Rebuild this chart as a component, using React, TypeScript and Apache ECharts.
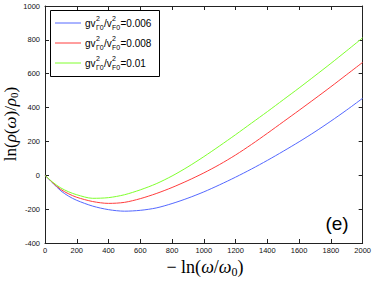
import React, { useEffect, useRef } from "react";
import * as echarts from "echarts";

const xs = [0, 50, 100, 150, 200, 300, 400, 500, 600, 700, 800, 900, 1000, 1100, 1200, 1300, 1400, 1500, 1600, 1700, 1800, 1900, 2000];
const blueVals = [0, -47, -92, -124, -148, -182, -203, -212, -207, -193, -167, -135, -98, -56, -11, 37, 88, 142, 198, 257, 320, 386, 455];
const redVals = [0, -45, -84, -110, -130, -155, -166, -160, -138, -108, -72, -31, 14, 64, 120, 182, 248, 316, 384, 453, 523, 595, 667];
const greenVals = [0, -42, -75, -98, -115, -136, -132, -115, -86, -50, -4, 50, 110, 174, 240, 308, 376, 446, 516, 588, 661, 736, 812];
const legendValues = ["0.006", "0.008", "0.01"];
const colors = ["#5468ff", "#ff3d3d", "#80ff2e"];

const SANS = "'Liberation Sans', Arial, Helvetica, sans-serif";
const SERIF = "'Liberation Serif', 'Times New Roman', serif";

function pairs(v: number[]) {
  return xs.map((x, i) => [x, v[i]]);
}

export default function App() {
  const ref = useRef<HTMLDivElement>(null);
  useEffect(() => {
    if (!ref.current) return;
    const chart = echarts.init(ref.current, undefined, { renderer: "svg" });
    const gl = 45, gt = 6, gr = 9, gb = 38;
    const axisLine = { show: true, onZero: false, lineStyle: { color: "#222", width: 1 } };
    const tick = { show: true, inside: true, length: 4, lineStyle: { color: "#222" } };
    const label = { fontSize: 7.5, color: "#111", fontFamily: SANS, formatter: (v: number) => String(v) };

    const legendChildren: any[] = [];
    legendChildren.push({
      type: "rect",
      shape: { x: 50.5, y: 10.5, width: 109, height: 66 },
      style: { fill: "#fff", stroke: "#000", lineWidth: 1 },
      z: 10,
    });
    legendValues.forEach((val, i) => {
      const y = 23 + i * 20;
      legendChildren.push({
        type: "line",
        shape: { x1: 55, y1: y, x2: 81, y2: y },
        style: { stroke: colors[i], lineWidth: 1 },
        z: 11,
      });
      const t = (text: string, x: number, yy: number, size: number) => ({
        type: "text",
        x,
        y: yy,
        z: 11,
        style: { text, fontSize: size, fontFamily: SANS, fill: "#000", verticalAlign: "middle", align: "left" },
      });
      legendChildren.push(t("gv", 85, y, 10));
      legendChildren.push(t("2", 96, y - 5, 7));
      legendChildren.push(t("Γ0", 96, y + 4, 7));
      legendChildren.push(t("/v", 104, y, 10));
      legendChildren.push(t("2", 112, y - 5, 7));
      legendChildren.push(t("F0", 112, y + 4, 7));
      legendChildren.push(t("=" + val, 120.5, y, 10));
    });

    chart.setOption({
      animation: false,
      grid: { left: gl, top: gt, right: gr, bottom: gb, containLabel: false },
      xAxis: [
        {
          type: "value", min: 0, max: 2000, interval: 200,
          axisLine, axisTick: tick, splitLine: { show: false },
          axisLabel: { ...label, margin: 3 },
        },
        {
          type: "value", position: "top", min: 0, max: 2000, interval: 200,
          axisLine, axisTick: tick, splitLine: { show: false }, axisLabel: { show: false },
        },
      ],
      yAxis: [
        {
          type: "value", min: -400, max: 1000, interval: 200,
          axisLine, axisTick: tick, splitLine: { show: false },
          axisLabel: { ...label, margin: 5 },
        },
        {
          type: "value", position: "right", min: -400, max: 1000, interval: 200,
          axisLine, axisTick: tick, splitLine: { show: false }, axisLabel: { show: false },
        },
      ],
      series: [blueVals, redVals, greenVals].map((v, i) => ({
        type: "line",
        data: pairs(v),
        smooth: 0.3,
        showSymbol: false,
        symbol: "none",
        lineStyle: { color: colors[i], width: 1 },
        z: 3,
      })),
      graphic: [
        ...legendChildren,
        {
          type: "text",
          x: 337,
          y: 223,
          style: { text: "(e)", fontSize: 19, fontFamily: SANS, fill: "#000", align: "center", verticalAlign: "middle" },
        },
        {
          type: "text",
          x: 205,
          y: 267,
          style: {
            text: "{n|− ln(}{i|ω}{n|/}{i|ω}{s|0}{n|)}",
            align: "center",
            verticalAlign: "middle",
            rich: {
              n: { fontSize: 18, fontFamily: SERIF, fill: "#000" },
              i: { fontSize: 18, fontFamily: SERIF, fontStyle: "italic", fill: "#000" },
              s: { fontSize: 12, fontFamily: SERIF, fill: "#000", padding: [9, 0, 0, 0] },
            },
          },
        },
        {
          type: "text",
          x: 10,
          y: 124,
          rotation: Math.PI / 2,
          style: {
            text: "{n|ln(}{i|ρ}{n|(}{i|ω}{n|)/}{i|ρ}{s|0}{n|)}",
            align: "center",
            verticalAlign: "middle",
            rich: {
              n: { fontSize: 17, fontFamily: SERIF, fill: "#000" },
              i: { fontSize: 17, fontFamily: SERIF, fontStyle: "italic", fill: "#000" },
              s: { fontSize: 11, fontFamily: SERIF, fill: "#000", padding: [8, 0, 0, 0] },
            },
          },
        },
      ],
    });
    return () => chart.dispose();
  }, []);
  return <div ref={ref} style={{ position: "fixed", left: 0, top: 0, width: 374, height: 281, background: "#fff" }} />;
}
